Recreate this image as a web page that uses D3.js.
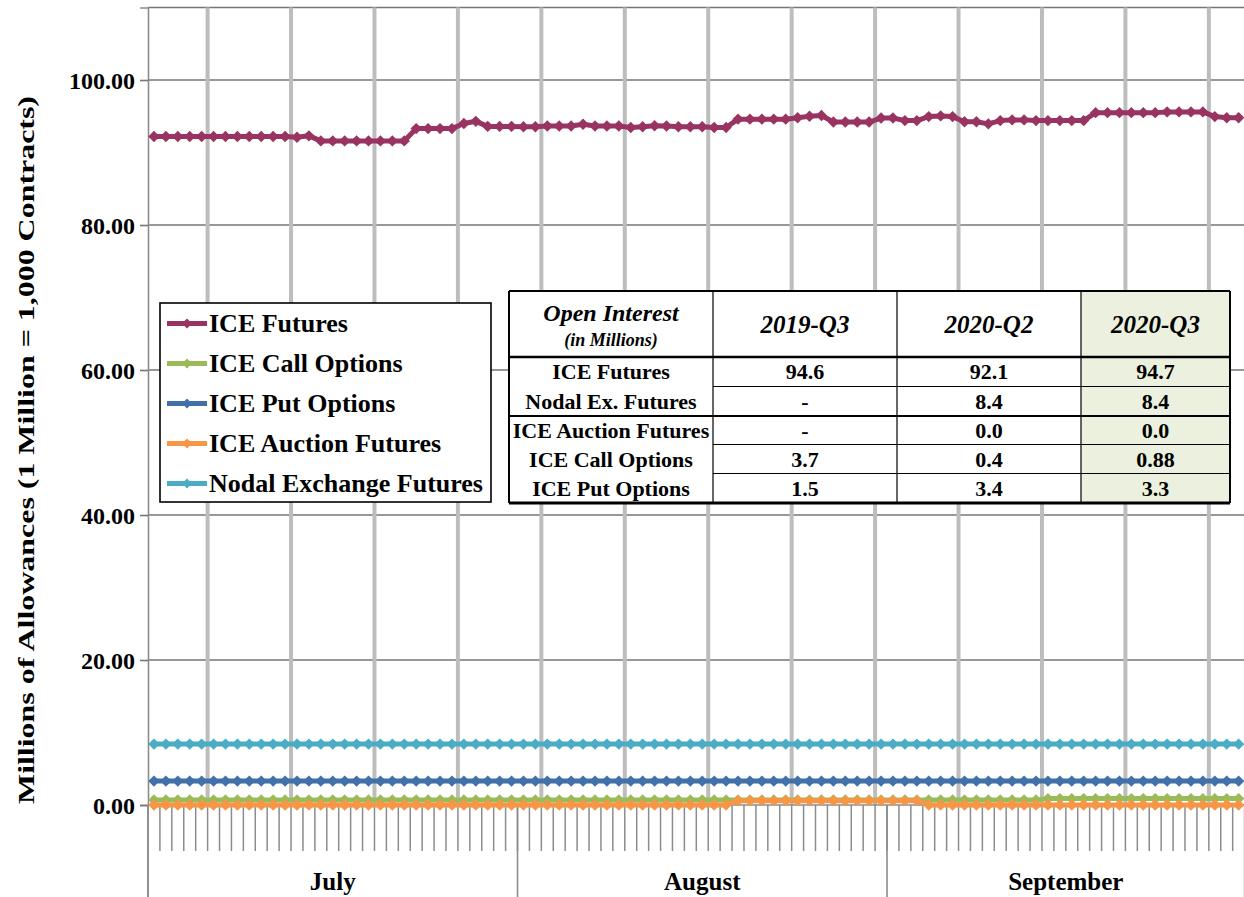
<!DOCTYPE html>
<html><head><meta charset="utf-8">
<script src="https://cdn.jsdelivr.net/npm/d3@7"></script>
<style>
body{margin:0;background:#fff;overflow:hidden;}
text{font-family:"Liberation Serif","Times New Roman",serif;font-weight:bold;fill:#000;}
</style>
</head><body><svg id="c" width="1244" height="897"></svg>
<script>
// ---------- data ----------
const months = ["July", "August", "September"];
const monthDays = [31, 31, 30];
const yTicks = [0, 20, 40, 60, 80, 100];
const seriesNames = ["ICE Futures", "ICE Call Options", "ICE Put Options", "ICE Auction Futures", "Nodal Exchange Futures"];
const seriesColors = ["#993462", "#9bbb59", "#4270a8", "#f79646", "#4bacc6"];

const iceFutures = [
  92.2,92.2,92.2,92.2,92.2,92.2,92.2,92.2,92.2,92.2,92.2,92.2,
  92.1,92.3,
  91.6,91.6,91.6,91.6,91.6,91.6,91.6,91.6,
  93.3,93.3,93.3,93.3,
  94.0,94.3,
  93.6,93.6,93.6,
  93.55,93.55,
  93.65,93.65,93.65,
  93.9,
  93.65,93.65,93.65,
  93.45,93.55,93.7,93.65,
  93.55,93.55,93.55,
  93.45,93.45,
  94.6,94.6,94.6,94.6,94.6,
  94.8,95.0,95.1,
  94.2,94.2,94.2,94.2,
  94.75,94.75,
  94.4,94.4,
  94.95,95.05,94.95,
  94.25,94.25,
  93.95,94.4,94.5,94.5,
  94.4,94.4,94.4,94.4,94.4,
  95.5,95.5,95.5,95.5,95.5,95.5,
  95.6,95.6,95.6,95.6,
  94.95,94.8,94.8
];
const iceCall = [
  0.7,0.7,0.7,0.7,0.7,0.7,0.7,0.7,0.7,0.7,0.7,0.7,0.7,0.7,0.7,0.7,0.7,0.7,0.7,0.7,
  0.7,0.7,0.7,0.7,0.7,0.7,0.7,0.7,0.7,0.7,0.7,0.7,0.7,0.7,0.7,0.7,0.7,0.7,0.7,0.7,
  0.7,0.7,0.7,0.7,0.7,0.7,0.7,0.7,0.7,0.7,0.7,0.7,0.7,0.7,0.7,0.7,0.7,0.7,0.7,0.7,
  0.7,0.7,0.7,0.7,0.7,0.7,0.7,0.7,0.7,0.7,0.7,0.7,0.7,0.7,0.7,
  0.88,0.88,0.88,0.88,0.88,0.88,0.88,0.88,0.88,0.88,0.88,0.88,0.88,0.88,0.88,0.88,0.88
];
const icePut = [
  3.3,3.3,3.3,3.3,3.3,3.3,3.3,3.3,3.3,3.3,3.3,3.3,3.3,3.3,3.3,3.3,3.3,3.3,3.3,3.3,
  3.3,3.3,3.3,3.3,3.3,3.3,3.3,3.3,3.3,3.3,3.3,3.3,3.3,3.3,3.3,3.3,3.3,3.3,3.3,3.3,
  3.3,3.3,3.3,3.3,3.3,3.3,3.3,3.3,3.3,3.3,3.3,3.3,3.3,3.3,3.3,3.3,3.3,3.3,3.3,3.3,
  3.3,3.3,3.3,3.3,3.3,3.3,3.3,3.3,3.3,3.3,3.3,3.3,3.3,3.3,3.3,3.3,3.3,3.3,3.3,3.3,
  3.3,3.3,3.3,3.3,3.3,3.3,3.3,3.3,3.3,3.3,3.3,3.3
];
const iceAuction = [
  0,0,0,0,0,0,0,0,0,0,0,0,0,0,0,0,0,0,0,0,
  0,0,0,0,0,0,0,0,0,0,0,0,0,0,0,0,0,0,0,0,
  0,0,0,0,0,0,0,0,0,
  0.6,0.6,0.6,0.6,0.6,0.6,0.6,0.6,0.6,0.6,0.6,0.6,0.6,0.6,0.6,0.6,
  0,0,0,0,0,0,0,0,0,0,0,0,0,0,0,0,0,0,0,0,0,0,0,0,0,0,0
];
const nodalFutures = [
  8.4,8.4,8.4,8.4,8.4,8.4,8.4,8.4,8.4,8.4,8.4,8.4,8.4,8.4,8.4,8.4,8.4,8.4,8.4,8.4,
  8.4,8.4,8.4,8.4,8.4,8.4,8.4,8.4,8.4,8.4,8.4,8.4,8.4,8.4,8.4,8.4,8.4,8.4,8.4,8.4,
  8.4,8.4,8.4,8.4,8.4,8.4,8.4,8.4,8.4,8.4,8.4,8.4,8.4,8.4,8.4,8.4,8.4,8.4,8.4,8.4,
  8.4,8.4,8.4,8.4,8.4,8.4,8.4,8.4,8.4,8.4,8.4,8.4,8.4,8.4,8.4,8.4,8.4,8.4,8.4,8.4,
  8.4,8.4,8.4,8.4,8.4,8.4,8.4,8.4,8.4,8.4,8.4,8.4
];

const tableTitle = "Open Interest";
const tableSubtitle = "(in Millions)";
const tableCols = ["2019-Q3", "2020-Q2", "2020-Q3"];
const tableRows = ["ICE Futures", "Nodal Ex. Futures", "ICE Auction Futures", "ICE Call Options", "ICE Put Options"];
const table2019Q3 = ["94.6", "-", "-", "3.7", "1.5"];
const table2020Q2 = ["92.1", "8.4", "0.0", "0.4", "3.4"];
const table2020Q3 = ["94.7", "8.4", "0.0", "0.88", "3.3"];
const yTitle = "Millions of Allowances  (1 Million = 1,000 Contracts)";

// ---------- build ----------
const svg = d3.select("#c");
const days = months.flatMap((m, mi) => d3.range(1, monthDays[mi] + 1).map(d => m + " " + d));
const series = [iceFutures, iceCall, icePut, iceAuction, nodalFutures];

const X0 = 148, X1 = 1244.6, Y0 = 805, YTOP = 7.5;
const x = d3.scaleBand().domain(days).range([X0, X1]).padding(0);
const bw = x.bandwidth();
const y = d3.scaleLinear().domain([0, 110]).range([Y0, YTOP]);
const bound = i => i < days.length ? x(days[i]) : x.range()[1];

// horizontal gridlines (incl. top border)
svg.append("g").selectAll("line").data(yTicks.filter(v => v > 0).concat([110])).join("line")
  .attr("x1", X0).attr("x2", X1).attr("y1", d => y(d)).attr("y2", d => y(d))
  .attr("stroke", "#767676").attr("stroke-width", 1.6);

// vertical weekly gridlines
const gridIdx = d3.range(5, days.length, 7);
svg.append("g").selectAll("line").data(gridIdx).join("line")
  .attr("x1", d => bound(d)).attr("x2", d => bound(d)).attr("y1", YTOP).attr("y2", Y0)
  .attr("stroke", "#bdbdbd").attr("stroke-width", 4);

// daily ticks below zero line
svg.append("g").selectAll("line").data(d3.range(1, days.length)).join("line")
  .attr("x1", d => bound(d)).attr("x2", d => bound(d)).attr("y1", Y0).attr("y2", 851)
  .attr("stroke", "#8c8c8c").attr("stroke-width", 1.5);

// month dividers
const monthStart = [0]; monthDays.forEach((n, i) => monthStart.push(monthStart[i] + n));
svg.append("g").selectAll("line").data(monthStart).join("line")
  .attr("x1", d => bound(d)).attr("x2", d => bound(d)).attr("y1", Y0).attr("y2", 897)
  .attr("stroke", "#8c8c8c").attr("stroke-width", 1.6);

// zero axis line
svg.append("line").attr("x1", X0).attr("x2", X1).attr("y1", Y0).attr("y2", Y0)
  .attr("stroke", "#8c8c8c").attr("stroke-width", 1.4);

// y axis
const yAxis = svg.append("g").attr("transform", `translate(${X0},0)`)
  .call(d3.axisLeft(y).tickValues(yTicks).tickFormat(d3.format(".2f")).tickSize(8).tickPadding(5));
yAxis.select(".domain").attr("stroke", "#8c8c8c").attr("stroke-width", 1.6);
yAxis.selectAll(".tick line").attr("stroke", "#767676").attr("stroke-width", 1.6);
yAxis.selectAll(".tick text").attr("font-size", 24).attr("font-family", "Liberation Serif").attr("font-weight", "bold").attr("fill", "#000").attr("dy", "0.34em");
svg.append("line").attr("x1", X0).attr("x2", X0).attr("y1", Y0).attr("y2", 897)
  .attr("stroke", "#8c8c8c").attr("stroke-width", 1.6);

// month labels
svg.append("g").selectAll("text").data(months).join("text")
  .attr("x", (d, i) => (bound(monthStart[i]) + bound(monthStart[i + 1])) / 2)
  .attr("y", 890).attr("text-anchor", "middle").attr("font-size", 25).text(d => d);

// y title
svg.append("text").attr("transform", "translate(34,450) rotate(-90)")
  .attr("text-anchor", "middle").attr("font-size", 24)
  .attr("textLength", 708).attr("lengthAdjust", "spacingAndGlyphs").text(yTitle);

// series
const diamond = r => `M0,${-r}L${r},0L0,${r}L${-r},0Z`;
const line = d3.line().x((d, i) => x(days[i]) + bw / 2).y(d => y(d));
series.forEach((s, si) => {
  const g = svg.append("g");
  g.append("path").attr("d", line(s)).attr("fill", "none")
    .attr("stroke", seriesColors[si]).attr("stroke-width", 5).attr("stroke-linejoin", "round");
  g.selectAll("path.m").data(s).join("path").attr("class", "m")
    .attr("transform", (d, i) => `translate(${x(days[i]) + bw / 2},${y(d)})`)
    .attr("d", diamond(5.7)).attr("fill", seriesColors[si]);
});

// legend
const lg = svg.append("g");
lg.append("rect").attr("x", 160).attr("y", 303).attr("width", 331).attr("height", 199)
  .attr("fill", "#fff").attr("stroke", "#000").attr("stroke-width", 1.6);
seriesNames.forEach((n, i) => {
  const cy = 323.5 + i * 40;
  lg.append("line").attr("x1", 167).attr("x2", 207).attr("y1", cy).attr("y2", cy)
    .attr("stroke", seriesColors[i]).attr("stroke-width", 5);
  lg.append("path").attr("transform", `translate(187,${cy})`).attr("d", diamond(5)).attr("fill", seriesColors[i]);
  lg.append("text").attr("x", 209).attr("y", cy + 8.5).attr("font-size", 26).text(n);
});

// table
const tg = svg.append("g");
const colX = [509, 713, 897, 1081, 1230];
const rowY = [291, 357, 386.5, 416, 444.5, 473.5, 503];
tg.append("rect").attr("x", colX[0]).attr("y", rowY[0]).attr("width", colX[4] - colX[0]).attr("height", rowY[6] - rowY[0]).attr("fill", "#fff");
tg.append("rect").attr("x", colX[3]).attr("y", rowY[0]).attr("width", colX[4] - colX[3]).attr("height", rowY[6] - rowY[0]).attr("fill", "#ebf1de");
colX.forEach((cx, i) => tg.append("line").attr("x1", cx).attr("x2", cx).attr("y1", rowY[0]).attr("y2", rowY[6])
  .attr("stroke", "#000").attr("stroke-width", (i === 0 || i === 4) ? 2 : 1.2));
const hLines = [[rowY[0], colX[0], 2], [rowY[1], colX[0], 2.5], [rowY[2], colX[1], 1], [rowY[3], colX[0], 2], [rowY[4], colX[1], 1], [rowY[5], colX[1], 1], [rowY[6], colX[0], 3]];
hLines.forEach(([yy, xs, w]) => tg.append("line").attr("x1", xs).attr("x2", colX[4]).attr("y1", yy).attr("y2", yy)
  .attr("stroke", "#000").attr("stroke-width", w));
const c0 = (colX[0] + colX[1]) / 2;
tg.append("text").attr("x", c0).attr("y", 321).attr("text-anchor", "middle").attr("font-size", 24).attr("font-style", "italic").text(tableTitle);
tg.append("text").attr("x", c0).attr("y", 346).attr("text-anchor", "middle").attr("font-size", 18).attr("font-style", "italic").text(tableSubtitle);
tableCols.forEach((c, i) => tg.append("text").attr("x", (colX[i + 1] + colX[i + 2]) / 2).attr("y", 333)
  .attr("text-anchor", "middle").attr("font-size", 25).attr("font-style", "italic").text(c));
const tableVals = [table2019Q3, table2020Q2, table2020Q3];
tableRows.forEach((r, ri) => {
  const cy = (rowY[ri + 1] + rowY[ri + 2]) / 2 + 7.5;
  tg.append("text").attr("x", c0).attr("y", cy).attr("text-anchor", "middle").attr("font-size", 22).text(r);
  tableVals.forEach((col, ci) => tg.append("text").attr("x", (colX[ci + 1] + colX[ci + 2]) / 2).attr("y", cy)
    .attr("text-anchor", "middle").attr("font-size", 22).text(col[ri]));
});
</script>
</body></html>
